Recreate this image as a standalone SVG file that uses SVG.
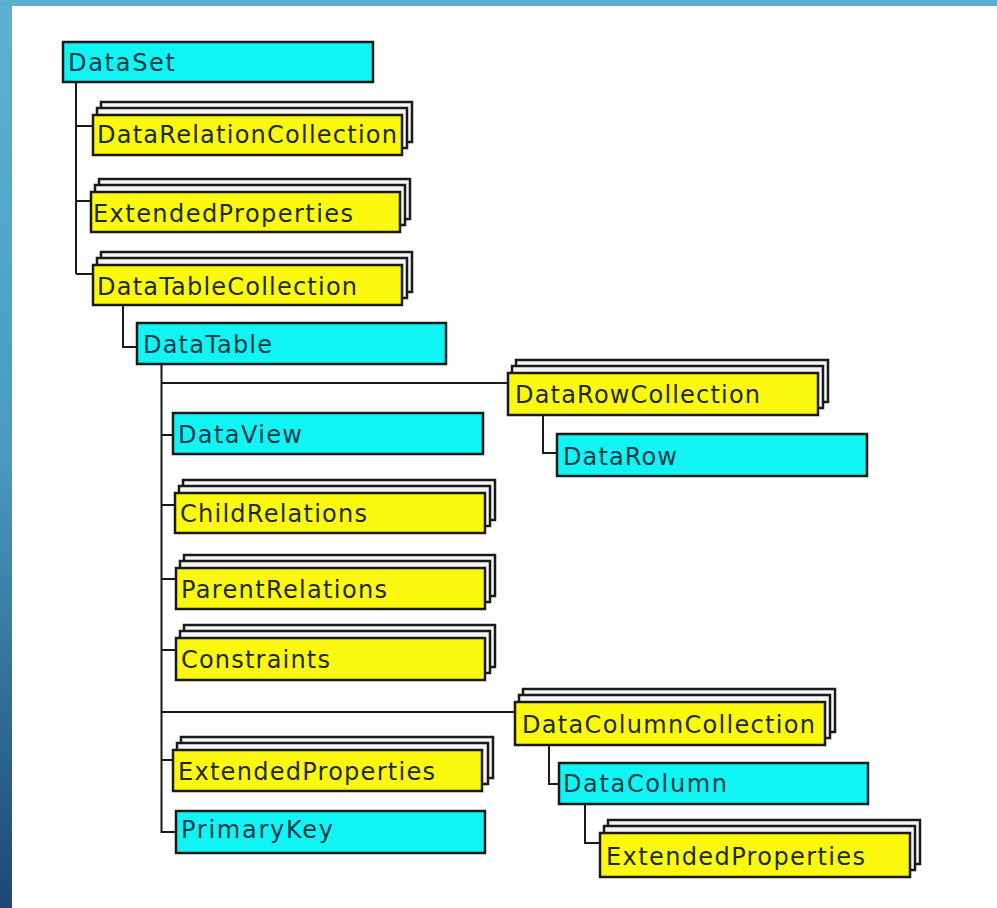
<svg xmlns="http://www.w3.org/2000/svg" width="997" height="908" viewBox="0 0 997 908">
<defs>
<linearGradient id="side" x1="0" y1="0" x2="0" y2="1">
<stop offset="0" stop-color="#5cb2d4"/>
<stop offset="0.5" stop-color="#4a9ac1"/>
<stop offset="1" stop-color="#1d4776"/>
</linearGradient>
</defs>
<style>
.cyan{fill:#10f4f4;stroke:#1a1a1a;stroke-width:2.5}
.yel{fill:#fcf80e;stroke:#1a1a1a;stroke-width:2.5}
.back{fill:#f6f6f6;stroke:#1a1a1a;stroke-width:2.5}
.lbl{font-family:"DejaVu Sans","Liberation Sans",sans-serif;font-size:24px;fill:#1c2a2c}
.lblc{font-family:"DejaVu Sans","Liberation Sans",sans-serif;font-size:24px;fill:#0e3a48}
.conn{fill:none;stroke:#1a1a1a;stroke-width:2}
</style>
<rect x="0" y="0" width="997" height="908" fill="#ffffff"/>
<rect x="0" y="0" width="12" height="908" fill="url(#side)"/>
<rect x="0" y="0" width="997" height="6" fill="#5aafd0"/>

<g id="connectors">
<path class="conn" d="M76,82 V274 M76,126 H93 M76,201 H91 M76,274 H93"/>
<path class="conn" d="M123,305 V347 H137"/>
<path class="conn" d="M161.5,364 V832 H176 M161.5,383 H508 M161.5,435 H173 M161.5,505 H175 M161.5,579 H176 M161.5,650 H176 M161.5,712 H515 M161.5,760 H173"/>
<path class="conn" d="M543,415 V453 H557"/>
<path class="conn" d="M549,745 V784 H559"/>
<path class="conn" d="M585,804 V843 H600"/>
</g>

<g id="DataSet">
<rect class="cyan" x="63" y="42" width="310" height="40"/>
<text class="lblc" x="68" y="71" textLength="107">DataSet</text>
</g>

<g id="DataRelationCollection">
<rect class="back" x="101" y="102" width="311" height="40"/>
<rect class="back" x="97" y="108" width="310" height="40"/>
<rect class="yel" x="93" y="115" width="309" height="40"/>
<text class="lbl" x="97" y="143" textLength="300">DataRelationCollection</text>
</g>

<g id="ExtendedProperties1">
<rect class="back" x="99" y="179" width="311" height="40"/>
<rect class="back" x="95" y="185" width="310" height="40"/>
<rect class="yel" x="91" y="192" width="309" height="40"/>
<text class="lbl" x="93" y="222" textLength="260">ExtendedProperties</text>
</g>

<g id="DataTableCollection">
<rect class="back" x="101" y="252" width="311" height="40"/>
<rect class="back" x="97" y="258" width="310" height="40"/>
<rect class="yel" x="93" y="265" width="309" height="40"/>
<text class="lbl" x="97" y="295" textLength="260">DataTableCollection</text>
</g>

<g id="DataTable">
<rect class="cyan" x="137" y="323" width="309" height="41"/>
<text class="lblc" x="143" y="353" textLength="129">DataTable</text>
</g>

<g id="DataRowCollection">
<rect class="back" x="516" y="360" width="312" height="42"/>
<rect class="back" x="512" y="366" width="311" height="42"/>
<rect class="yel" x="508" y="373" width="310" height="42"/>
<text class="lbl" x="515" y="403" textLength="245">DataRowCollection</text>
</g>

<g id="DataRow">
<rect class="cyan" x="557" y="434" width="310" height="42"/>
<text class="lblc" x="563" y="465" textLength="114">DataRow</text>
</g>

<g id="DataView">
<rect class="cyan" x="173" y="413" width="310" height="41"/>
<text class="lblc" x="178" y="443" textLength="124">DataView</text>
</g>

<g id="ChildRelations">
<rect class="back" x="183" y="480" width="312" height="40"/>
<rect class="back" x="179" y="486" width="311" height="40"/>
<rect class="yel" x="175" y="493" width="310" height="40"/>
<text class="lbl" x="180" y="522" textLength="187">ChildRelations</text>
</g>

<g id="ParentRelations">
<rect class="back" x="184" y="555" width="311" height="41"/>
<rect class="back" x="180" y="561" width="310" height="41"/>
<rect class="yel" x="176" y="568" width="309" height="41"/>
<text class="lbl" x="181" y="598" textLength="206">ParentRelations</text>
</g>

<g id="Constraints">
<rect class="back" x="184" y="625" width="311" height="42"/>
<rect class="back" x="180" y="631" width="310" height="42"/>
<rect class="yel" x="176" y="638" width="309" height="42"/>
<text class="lbl" x="181" y="668" textLength="149">Constraints</text>
</g>

<g id="DataColumnCollection">
<rect class="back" x="523" y="689" width="312" height="43"/>
<rect class="back" x="519" y="695" width="311" height="43"/>
<rect class="yel" x="515" y="702" width="310" height="43"/>
<text class="lbl" x="522" y="733" textLength="293">DataColumnCollection</text>
</g>

<g id="DataColumn">
<rect class="cyan" x="559" y="763" width="309" height="41"/>
<text class="lblc" x="563" y="792" textLength="164">DataColumn</text>
</g>

<g id="ExtendedProperties2">
<rect class="back" x="181" y="737" width="312" height="41"/>
<rect class="back" x="177" y="743" width="311" height="41"/>
<rect class="yel" x="173" y="750" width="309" height="41"/>
<text class="lbl" x="178" y="780" textLength="257">ExtendedProperties</text>
</g>

<g id="PrimaryKey">
<rect class="cyan" x="176" y="811" width="309" height="42"/>
<text class="lblc" x="181" y="838" textLength="152">PrimaryKey</text>
</g>

<g id="ExtendedProperties3">
<rect class="back" x="608" y="820" width="312" height="44"/>
<rect class="back" x="604" y="826" width="311" height="44"/>
<rect class="yel" x="600" y="833" width="310" height="44"/>
<text class="lbl" x="606" y="865" textLength="259">ExtendedProperties</text>
</g>
</svg>
